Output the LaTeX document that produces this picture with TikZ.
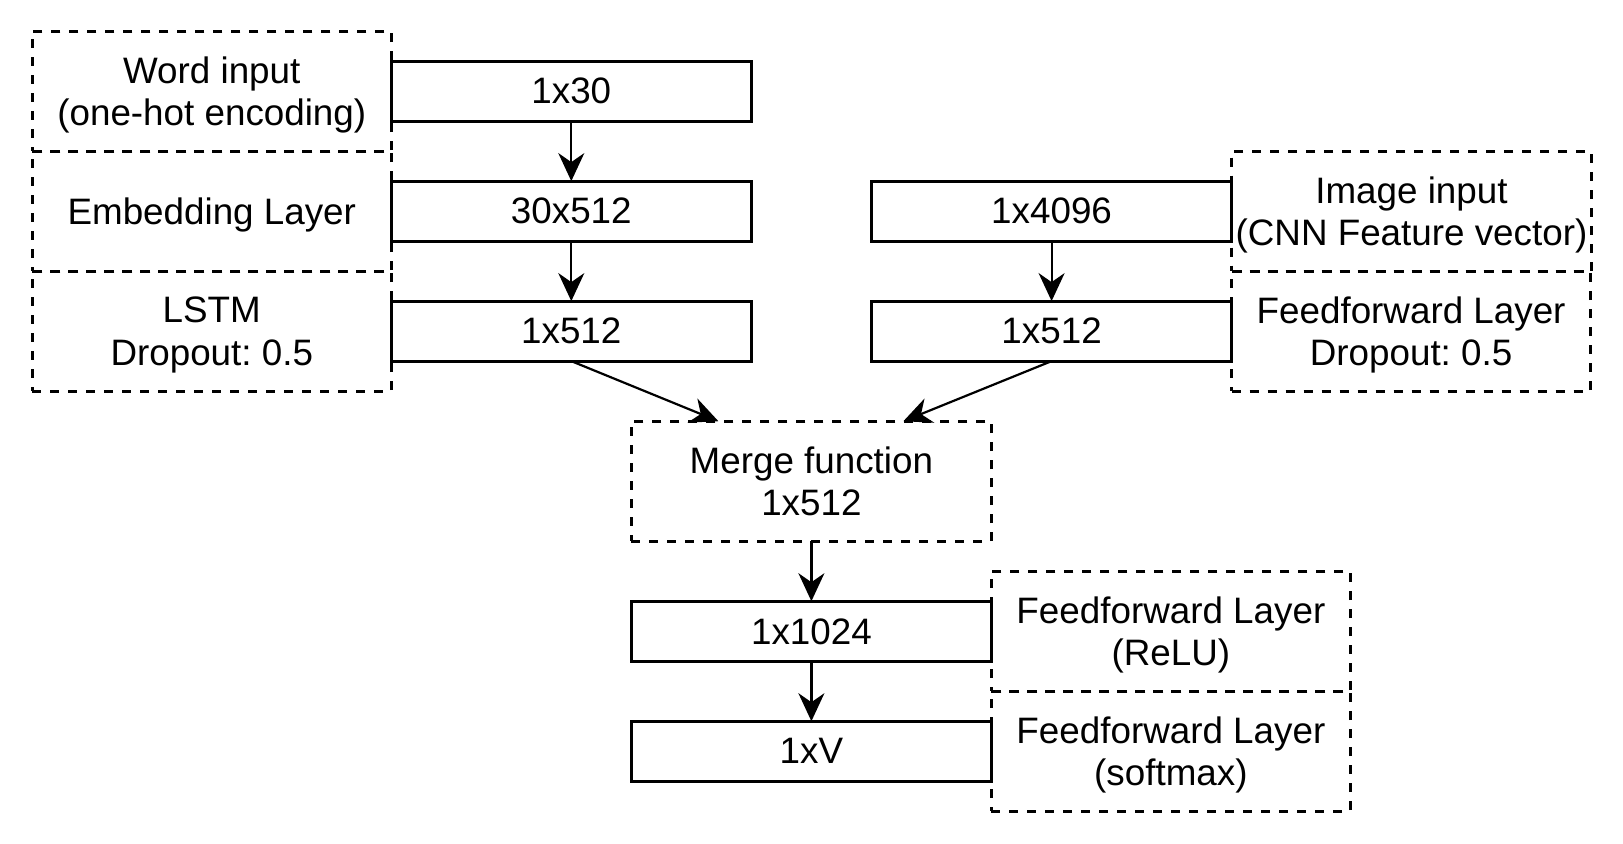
\documentclass[tikz,border=0pt]{standalone}
\usepackage{fontspec}
\setmainfont{Liberation Sans}
\usepackage{tikz}
\usetikzlibrary{arrows.meta,positioning}
\frenchspacing
\tikzset{
  dimbox/.style={draw, line width=1.5pt, minimum width=180pt, minimum height=30pt,
                 inner sep=0pt, outer sep=0pt, align=center, text depth=0pt},
  descbox/.style={draw, line width=1.5pt, dash pattern=on 4.5pt off 4.5pt,
                  minimum width=179.5pt, minimum height=60pt, inner sep=2pt,
                  outer sep=0pt, align=center, text depth=0pt},
  flowarr/.style={-{Stealth[length=14pt, width=13pt, inset=4.5pt]}, line width=1.1pt}
}

\begin{document}
\begin{tikzpicture}[node distance=30pt, font=\fontsize{18.4}{21.2}\selectfont]
\useasboundingbox (0,0) rectangle (811.5pt,-421.5pt);

% word branch
\node[dimbox] (w30) at (285.65pt,-45.55pt) {1x30};
\node[dimbox, below=of w30] (emb) {30x512};
\node[dimbox, below=of emb] (lstm) {1x512};
\node[descbox, left=0pt of w30] (wordin) {Word input\\(one-hot encoding)};
\node[descbox, left=0pt of emb] (embdesc) {Embedding Layer};
\node[descbox, left=0pt of lstm] (lstmdesc) {LSTM\\Dropout: 0.5};

% image branch
\node[dimbox] (img) at (525.8pt,-105.55pt) {1x4096};
\node[dimbox, below=of img] (imgff) {1x512};
\node[descbox, right=0pt of img] (imgin) {Image input\\(CNN Feature vector)};
\node[descbox, right=0pt of imgff] (imgffdesc) {Feedforward Layer\\Dropout: 0.5};

% merge and output
\node[descbox, minimum width=180pt] (merge) at (405.7pt,-240.6pt) {Merge function\\1x512};
\node[dimbox, below=of merge] (relu) {1x1024};
\node[dimbox, below=of relu] (out) {1xV};
\node[descbox, right=0pt of relu] (reludesc) {Feedforward Layer\\(ReLU)};
\node[descbox, right=0pt of out] (outdesc) {Feedforward Layer\\(softmax)};

\draw[flowarr] (w30) -- (emb);
\draw[flowarr] (emb) -- (lstm);
\draw[flowarr] (img) -- (imgff);
\draw[flowarr] (lstm.south) -- ([xshift=-46.5pt]merge.north);
\draw[flowarr] (imgff.south) -- ([xshift=46pt]merge.north);
\draw[flowarr] (merge) -- (relu);
\draw[flowarr] (relu) -- (out);
\end{tikzpicture}
\end{document}
